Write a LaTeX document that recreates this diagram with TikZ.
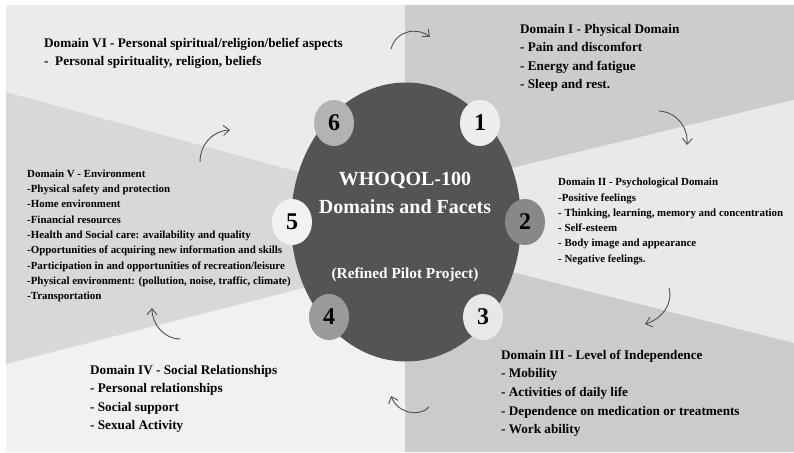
\documentclass[tikz,border=0pt]{standalone}
\usepackage{fontspec}
\setmainfont{Liberation Serif}
\usetikzlibrary{arrows.meta,shapes.geometric}
\definecolor{bgVI}{HTML}{EBEBEB}
\definecolor{bgI}{HTML}{CCCCCC}
\definecolor{bgII}{HTML}{E9E9E9}
\definecolor{bgIII}{HTML}{CBCBCB}
\definecolor{bgIV}{HTML}{F1F1F1}
\definecolor{bgV}{HTML}{D8D8D8}
\definecolor{hub}{HTML}{545454}
\definecolor{arrowgrey}{HTML}{505050}
\definecolor{nOne}{HTML}{EEEEEE}
\definecolor{nTwo}{HTML}{888888}
\definecolor{nThree}{HTML}{E8E8E8}
\definecolor{nFour}{HTML}{9A9A9A}
\definecolor{nFive}{HTML}{F2F2F2}
\definecolor{nSix}{HTML}{B3B3B3}
\begin{document}
\begin{tikzpicture}[x=1pt,y=-1pt,
  bigtext/.style={font=\bfseries\fontsize{13.2}{18.5}\selectfont, align=left, inner sep=0pt, anchor=north west, text=black},
  smalltext/.style={font=\bfseries\fontsize{10.9}{15.3}\selectfont, align=left, inner sep=0pt, anchor=north west, text=black},
  numdisc/.style={ellipse, minimum width=40pt, minimum height=46pt, inner sep=0pt, draw=none, font=\bfseries\fontsize{24}{24}\selectfont, text=black},
  cyclearrow/.style={draw=arrowgrey, line width=0.9pt, -{Straight Barb[length=6pt,width=10pt]}}
]
\useasboundingbox (0,0) rectangle (794,452);
% background sectors
\fill[bgVI] (6,5) -- (405,5) -- (405,201) -- (6,92) -- cycle;
\fill[bgI] (405,5) -- (794,5) -- (794,100) -- (405,194) -- cycle;
\fill[bgII] (405,194) -- (794,100) -- (794,343) -- (405,245) -- cycle;
\fill[bgIII] (405,245) -- (794,343) -- (794,452) -- (405,452) -- cycle;
\fill[bgIV] (405,452) -- (6,452) -- (6,364) -- (405,262) -- cycle;
\fill[bgV] (6,92) -- (405,201) -- (405,262) -- (6,364) -- cycle;
% central ellipse
\node[ellipse, fill=hub, minimum width=230pt, minimum height=279pt, inner sep=0pt] (hub) at (406,222) {};
\node[font=\bfseries\fontsize{20}{28}\selectfont, text=white, align=center, inner sep=0pt, anchor=base] (title) at (405,213) {WHOQOL-100\\Domains and Facets};
\node[font=\bfseries\fontsize{15.3}{18}\selectfont, text=white, inner sep=0pt, anchor=base] (sub) at (405,278) {(Refined Pilot Project)};
% numbered discs
\node[numdisc, fill=nOne] (n1) at (480,123) {1};
\node[numdisc, fill=nTwo] (n2) at (525,222) {2};
\node[numdisc, fill=nThree] (n3) at (483,317) {3};
\node[numdisc, fill=nFour] (n4) at (329,317) {4};
\node[numdisc, fill=nFive] (n5) at (292,222) {5};
\node[numdisc, fill=nSix] (n6) at (334,123) {6};
% domain texts
\node[bigtext] (d6) at (44,38) {Domain VI - Personal spiritual/religion/belief aspects\\-\ \ Personal spirituality, religion, beliefs};
\node[bigtext] (d1) at (520,24) {Domain I - Physical Domain\\- Pain and discomfort\\- Energy and fatigue\\- Sleep and rest.};
\node[smalltext] (d2) at (558,178) {Domain II - Psychological Domain\\-Positive feelings\\- Thinking, learning, memory and concentration\\- Self-esteem\\- Body image and appearance\\- Negative feelings.};
\node[bigtext] (d3) at (501,350) {Domain III - Level of Independence\\- Mobility\\- Activities of daily life\\- Dependence on medication or treatments\\- Work ability};
\node[bigtext] (d4) at (90,365) {Domain IV - Social Relationships\\- Personal relationships\\- Social support\\- Sexual Activity};
\node[smalltext] (d5) at (27,169.5) {Domain V - Environment\\-Physical safety and protection\\-Home environment\\-Financial resources\\-Health and Social care: availability and quality\\-Opportunities of acquiring new information and skills\\-Participation in and opportunities of recreation/leisure\\-Physical environment: (pollution, noise, traffic, climate)\\-Transportation};
% cycle arrows
\coordinate (a1s) at (391,49);  \coordinate (a1e) at (430,37);
\coordinate (a2s) at (659,111); \coordinate (a2e) at (687,145);
\coordinate (a3s) at (669,288); \coordinate (a3e) at (645,324);
\coordinate (a4s) at (429,407); \coordinate (a4e) at (391,396);
\coordinate (a5s) at (180,339); \coordinate (a5e) at (152,308);
\coordinate (a6s) at (200,162); \coordinate (a6e) at (230,130);
\draw[cyclearrow] (a1s) .. controls (396,30) and (418,27) .. (a1e);
\draw[cyclearrow] (a2s) .. controls (675,112) and (688,125) .. (a2e);
\draw[cyclearrow] (a3s) .. controls (673,300) and (665,318) .. (a3e);
\draw[cyclearrow] (a4s) .. controls (420,417) and (398,414) .. (a4e);
\draw[cyclearrow] (a5s) .. controls (165,339) and (152,325) .. (a5e);
\draw[cyclearrow] (a6s) .. controls (200,145) and (212,131) .. (a6e);
\end{tikzpicture}
\end{document}
